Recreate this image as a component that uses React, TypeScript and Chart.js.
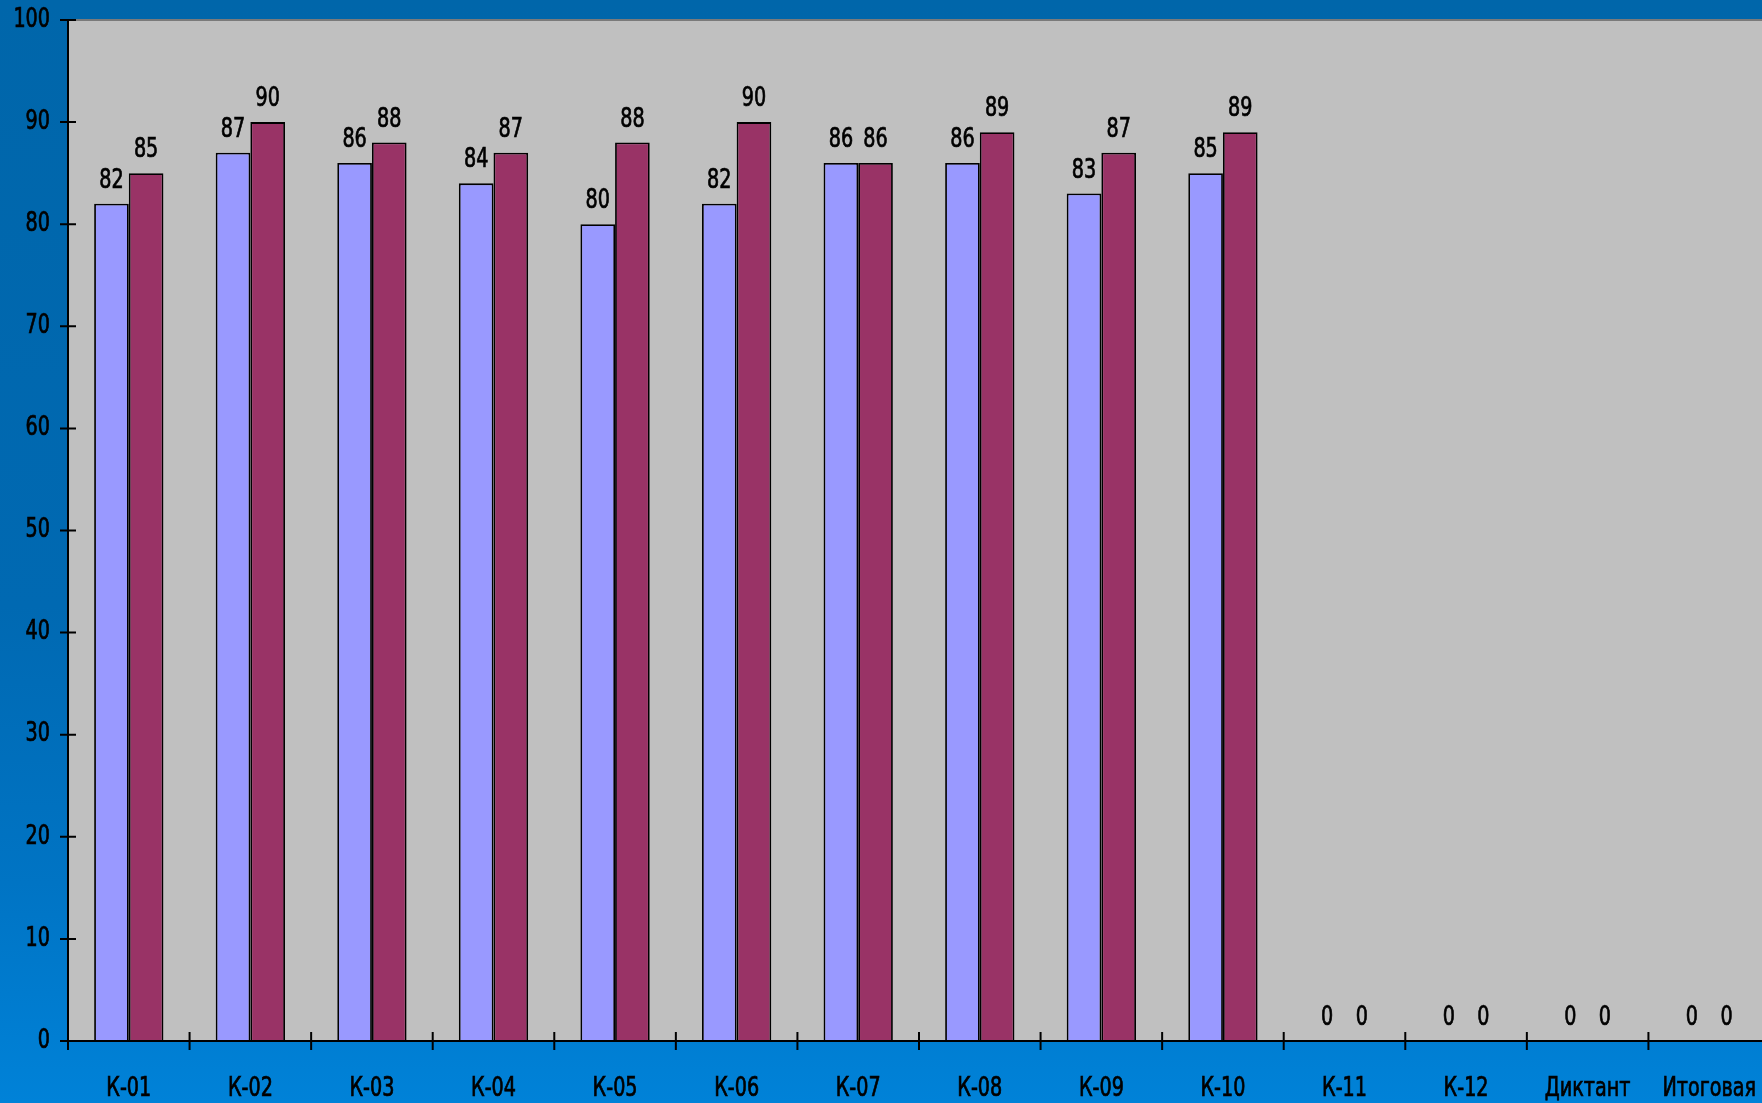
import React, { useEffect, useRef } from "react";
import { Chart, registerables } from "chart.js";

Chart.register(...registerables);

const categories = ["К-01", "К-02", "К-03", "К-04", "К-05", "К-06", "К-07", "К-08", "К-09", "К-10", "К-11", "К-12", "Диктант", "Итоговая"];
const seriesA = [82, 87, 86, 84, 80, 82, 86, 86, 83, 85, 0, 0, 0, 0];
const seriesB = [85, 90, 88, 87, 88, 90, 86, 89, 87, 89, 0, 0, 0, 0];
const yTicks = [0, 10, 20, 30, 40, 50, 60, 70, 80, 90, 100];

const FONT = "'DejaVu Sans Condensed', 'DejaVu Sans', sans-serif";
const SX = 0.82;

function drawText(ctx: any, text: string, x: number, y: number, align: string, baseline: string) {
  ctx.save();
  ctx.translate(x, y);
  ctx.scale(SX, 1);
  ctx.textAlign = align;
  ctx.textBaseline = baseline;
  ctx.lineWidth = 0.7;
  ctx.strokeStyle = "#000";
  ctx.strokeText(text, 0, 0);
  ctx.fillText(text, 0, 0);
  ctx.restore();
}

const decorPlugin = {
  id: "decor",
  beforeDraw(chart: any) {
    const { ctx, width, height, chartArea } = chart;
    ctx.save();
    const g = ctx.createLinearGradient(0, 0, 0, height);
    g.addColorStop(0, "#0066AA");
    g.addColorStop(0.55, "#0069B2");
    g.addColorStop(0.8, "#0074C4");
    g.addColorStop(1, "#0082D8");
    ctx.fillStyle = g;
    ctx.fillRect(0, 0, width, height);
    ctx.fillStyle = "#C0C0C0";
    ctx.fillRect(chartArea.left, chartArea.top, chartArea.right - chartArea.left, chartArea.bottom - chartArea.top);
    ctx.strokeStyle = "#7A7A7A";
    ctx.lineWidth = 2;
    ctx.beginPath();
    ctx.moveTo(chartArea.left, chartArea.top);
    ctx.lineTo(chartArea.right, chartArea.top);
    ctx.stroke();
    ctx.restore();
  },
  afterDatasetsDraw(chart: any) {
    const { ctx, chartArea, scales } = chart;
    ctx.save();
    ctx.strokeStyle = "#000";
    ctx.lineWidth = 2;
    ctx.beginPath();
    ctx.moveTo(chartArea.left, chartArea.top);
    ctx.lineTo(chartArea.left, chartArea.bottom + 9);
    ctx.moveTo(chartArea.left, chartArea.bottom);
    ctx.lineTo(chartArea.right, chartArea.bottom);
    yTicks.forEach((v) => {
      const y = scales.y.getPixelForValue(v);
      ctx.moveTo(chartArea.left - 8, y);
      ctx.lineTo(chartArea.left + 8, y);
    });
    const w = (chartArea.right - chartArea.left) / categories.length;
    for (let i = 1; i < categories.length; i++) {
      const x = chartArea.left + i * w;
      ctx.moveTo(x, chartArea.bottom - 9);
      ctx.lineTo(x, chartArea.bottom + 9);
    }
    ctx.stroke();

    ctx.fillStyle = "#000";
    ctx.font = `26px ${FONT}`;
    yTicks.forEach((v) => {
      drawText(ctx, String(v), chartArea.left - 18, scales.y.getPixelForValue(v), "right", "middle");
    });
    categories.forEach((c, i) => {
      drawText(ctx, c, scales.x.getPixelForValue(i), chartArea.bottom + 55, "center", "alphabetic");
    });
    chart.data.datasets.forEach((ds: any, di: number) => {
      const meta = chart.getDatasetMeta(di);
      meta.data.forEach((bar: any, i: number) => {
        drawText(ctx, String(ds.data[i]), bar.x, bar.y - 16, "center", "alphabetic");
      });
    });
    ctx.restore();
  },
};

export default function App() {
  const ref = useRef<HTMLCanvasElement>(null);
  useEffect(() => {
    if (!ref.current) return;
    const zeroPad = (s: any) => {
      s.paddingTop = 0;
      s.paddingBottom = 0;
      s.paddingLeft = 0;
      s.paddingRight = 0;
    };
    const chart = new Chart(ref.current, {
      type: "bar",
      data: {
        labels: categories,
        datasets: [
          { label: "A", data: seriesA, backgroundColor: "#9999FF", borderColor: "#000", borderWidth: 1.8, barPercentage: 1, categoryPercentage: 0.57 },
          { label: "B", data: seriesB, backgroundColor: "#993366", borderColor: "#000", borderWidth: 1.8, barPercentage: 1, categoryPercentage: 0.57 },
        ],
      },
      options: {
        animation: false,
        responsive: false,
        devicePixelRatio: 1,
        layout: { padding: { top: 20, left: 0, right: 0, bottom: 0 } },
        plugins: { legend: { display: false }, tooltip: { enabled: false } },
        scales: {
          x: {
            grid: { display: false, drawTicks: false },
            border: { display: false },
            ticks: { display: false },
            afterFit: (s: any) => { s.height = 62; zeroPad(s); },
          },
          y: {
            min: 0,
            max: 100,
            grid: { display: false, drawTicks: false },
            border: { display: false },
            ticks: { display: false, stepSize: 10 },
            afterFit: (s: any) => { s.width = 68; zeroPad(s); },
          },
        },
      },
      plugins: [decorPlugin],
    });
    return () => chart.destroy();
  }, []);
  return (
    <div style={{ position: "fixed", left: 0, top: 0, width: 1762, height: 1103, overflow: "hidden" }}>
      <canvas ref={ref} width={1770} height={1103} style={{ width: 1770, height: 1103, display: "block" }} />
    </div>
  );
}
